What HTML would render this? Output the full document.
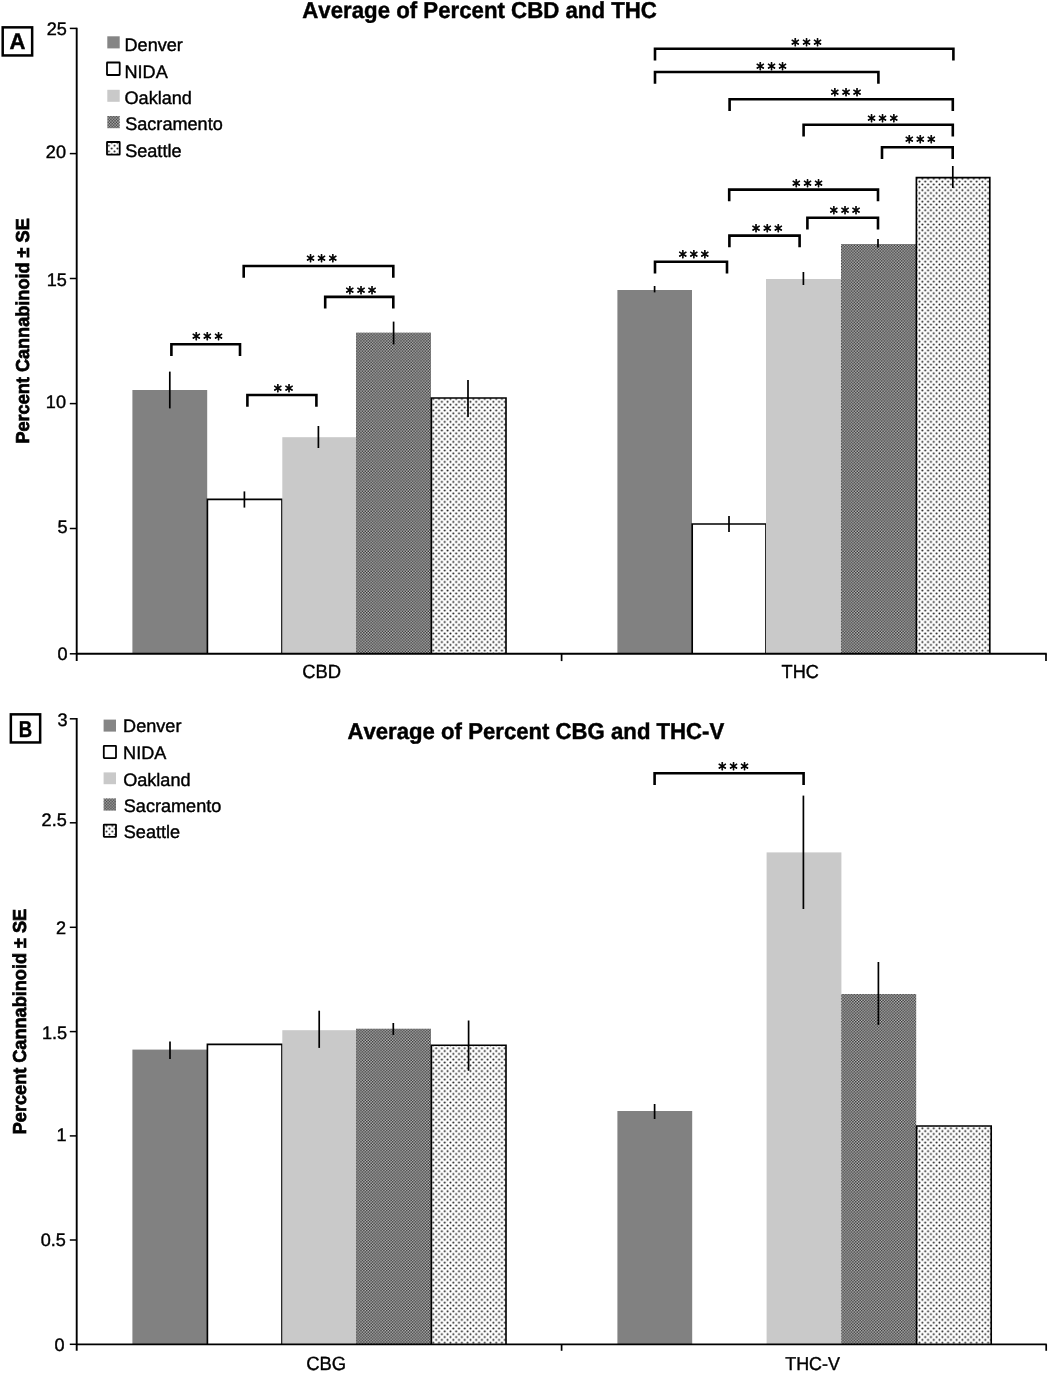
<!DOCTYPE html>
<html lang="en">
<head>
<meta charset="utf-8">
<title>Average of Percent Cannabinoids</title>
<style>
html,body{margin:0;padding:0;background:#fff;}
body{width:1050px;height:1373px;overflow:hidden;}
svg{display:block;font-family:'Liberation Sans',Arial,Helvetica,sans-serif;font-kerning:none;}
svg text{fill:#000;stroke:#000;stroke-width:0.4px;text-rendering:geometricPrecision;}
svg text.b{stroke-width:0.45px;}
svg text.bv{stroke-width:0.7px;}
svg text.st{font-family:'DejaVu Sans','Liberation Sans',sans-serif;stroke-width:0.75px;stroke-linejoin:round;}
</style>
</head>
<body>
<svg width="1050" height="1373" viewBox="0 0 1050 1373">
<defs>
<pattern id="sac" width="2.86" height="2.86" patternUnits="userSpaceOnUse">
<rect width="2.86" height="2.86" fill="#c2c2c2"/>
<rect x="0" y="0" width="1.43" height="1.43" fill="#2c2c2c"/>
<rect x="1.43" y="1.43" width="1.43" height="1.43" fill="#2c2c2c"/>
</pattern>
<pattern id="sea" width="5.72" height="5.72" patternUnits="userSpaceOnUse">
<rect width="5.72" height="5.72" fill="#fff"/>
<circle cx="1.43" cy="1.43" r="1" fill="#000" fill-opacity="0.9"/>
<circle cx="4.29" cy="4.29" r="1" fill="#000" fill-opacity="0.9"/>
</pattern>
<pattern id="seaA" x="113.14" y="144.27" width="5.72" height="5.72" patternUnits="userSpaceOnUse">
<rect width="5.72" height="5.72" fill="#fff"/>
<circle cx="1.43" cy="1.43" r="1" fill="#000" fill-opacity="0.9"/>
<circle cx="4.29" cy="4.29" r="1" fill="#000" fill-opacity="0.9"/>
</pattern>
<pattern id="seaB" x="108" y="827.27" width="5.72" height="5.72" patternUnits="userSpaceOnUse">
<rect width="5.72" height="5.72" fill="#fff"/>
<circle cx="1.43" cy="1.43" r="1" fill="#000" fill-opacity="0.9"/>
<circle cx="4.29" cy="4.29" r="1" fill="#000" fill-opacity="0.9"/>
</pattern>
</defs>
<rect width="1050" height="1373" fill="#fff"/>
<rect x="132.40" y="390.00" width="74.80" height="263.80" fill="#818181"/>
<path d="M207.40 653.80V499.40H282.00V653.80" fill="#fff" stroke="#000" stroke-width="1.65"/>
<rect x="282.30" y="437.20" width="73.90" height="216.60" fill="#c9c9c9"/>
<rect x="356.00" y="332.60" width="75.00" height="321.20" fill="url(#sac)"/>
<path d="M431.40 653.80V398.00H506.00V653.80" fill="url(#sea)" stroke="#000" stroke-width="1.65"/>
<rect x="617.40" y="290.00" width="74.60" height="363.80" fill="#818181"/>
<path d="M692.20 653.80V524.00H766.00V653.80" fill="#fff" stroke="#000" stroke-width="1.65"/>
<rect x="766.00" y="279.00" width="75.20" height="374.80" fill="#c9c9c9"/>
<rect x="841.00" y="244.00" width="75.00" height="409.80" fill="url(#sac)"/>
<path d="M916.40 653.80V177.60H989.80V653.80" fill="url(#sea)" stroke="#000" stroke-width="1.65"/>
<line x1="169.80" y1="371.60" x2="169.80" y2="408.40" stroke="#000" stroke-width="1.7"/>
<line x1="244.40" y1="491.40" x2="244.40" y2="507.60" stroke="#000" stroke-width="1.7"/>
<line x1="318.40" y1="426.00" x2="318.40" y2="448.00" stroke="#000" stroke-width="1.7"/>
<line x1="393.60" y1="321.60" x2="393.60" y2="344.40" stroke="#000" stroke-width="1.7"/>
<line x1="468.00" y1="380.00" x2="468.00" y2="417.00" stroke="#000" stroke-width="1.7"/>
<line x1="654.60" y1="286.00" x2="654.60" y2="292.40" stroke="#000" stroke-width="1.7"/>
<line x1="729.00" y1="516.00" x2="729.00" y2="532.00" stroke="#000" stroke-width="1.7"/>
<line x1="803.40" y1="272.00" x2="803.40" y2="285.00" stroke="#000" stroke-width="1.7"/>
<line x1="878.00" y1="239.00" x2="878.00" y2="247.60" stroke="#000" stroke-width="1.7"/>
<line x1="952.80" y1="166.00" x2="952.80" y2="188.00" stroke="#000" stroke-width="1.7"/>
<line x1="76.70" y1="27.70" x2="76.70" y2="661.10" stroke="#000" stroke-width="1.9"/>
<line x1="76.70" y1="653.80" x2="1046.75" y2="653.80" stroke="#000" stroke-width="2.0"/>
<line x1="69.80" y1="28.40" x2="76.70" y2="28.40" stroke="#000" stroke-width="1.5"/>
<text transform="translate(46.63 35.00) scale(1.0000 1)" font-size="18.10">25</text>
<line x1="69.80" y1="153.60" x2="76.70" y2="153.60" stroke="#000" stroke-width="1.5"/>
<text transform="translate(45.82 158.00) scale(1.0000 1)" font-size="18.10">20</text>
<line x1="69.80" y1="278.50" x2="76.70" y2="278.50" stroke="#000" stroke-width="1.5"/>
<text transform="translate(46.63 286.00) scale(1.0000 1)" font-size="18.10">15</text>
<line x1="69.80" y1="403.60" x2="76.70" y2="403.60" stroke="#000" stroke-width="1.5"/>
<text transform="translate(45.82 408.00) scale(1.0000 1)" font-size="18.10">10</text>
<line x1="69.80" y1="528.50" x2="76.70" y2="528.50" stroke="#000" stroke-width="1.5"/>
<text transform="translate(57.54 533.00) scale(1.0000 1)" font-size="18.10">5</text>
<line x1="69.80" y1="653.80" x2="76.70" y2="653.80" stroke="#000" stroke-width="1.5"/>
<text transform="translate(57.44 660.00) scale(1.0000 1)" font-size="18.10">0</text>
<line x1="561.60" y1="653.80" x2="561.60" y2="661.10" stroke="#000" stroke-width="1.7"/>
<line x1="1046.00" y1="653.80" x2="1046.00" y2="661.10" stroke="#000" stroke-width="1.7"/>
<text transform="translate(302.27 678.00) scale(0.9615 1)" font-size="19.12">CBD</text>
<text transform="translate(781.59 678.00) scale(0.9615 1)" font-size="18.87">THC</text>
<text transform="translate(29.10 443.61) rotate(-90) scale(0.9662 1)" font-size="18.75" font-weight="bold" class="bv">Percent Cannabinoid ± SE</text>
<text transform="translate(302.25 18.00) scale(0.9662 1)" font-size="23.02" font-weight="bold" class="b">Average of Percent CBD and THC</text>
<rect x="2.70" y="27.35" width="29.45" height="28.10" fill="#fff" stroke="#000" stroke-width="2.5"/>
<text transform="translate(9.55 48.90) scale(0.9761 1)" font-size="22.60" font-weight="bold" class="b">A</text>
<rect x="107.30" y="36.30" width="12.40" height="12.10" fill="#858585"/>
<text transform="translate(124.52 51.00) scale(1.0000 1)" font-size="18.10">Denver</text>
<rect x="107.00" y="62.50" width="12.70" height="12.50" rx="0.5" fill="#fff" stroke="#000" stroke-width="1.8"/>
<text transform="translate(124.52 78.00) scale(1.0000 1)" font-size="18.10">NIDA</text>
<rect x="107.30" y="89.80" width="12.40" height="12.00" fill="#c9c9c9"/>
<text transform="translate(124.54 104.00) scale(1.0000 1)" font-size="18.10">Oakland</text>
<rect x="107.30" y="116.00" width="12.40" height="12.20" fill="url(#sac)"/>
<text transform="translate(125.18 130.00) scale(1.0000 1)" font-size="18.10">Sacramento</text>
<rect x="107.00" y="142.00" width="12.70" height="12.70" rx="0.5" fill="url(#seaA)" stroke="#000" stroke-width="1.8"/>
<text transform="translate(125.18 157.00) scale(1.0000 1)" font-size="18.10">Seattle</text>
<path d="M171.40 355.90V344.20H240.00V355.90" fill="none" stroke="#000" stroke-width="2.6"/>
<text class="st" transform="translate(207.40 345) scale(0.94 1)" x="-11.81 0.00 11.81" y="0" font-size="17.2" text-anchor="middle">***</text>
<path d="M247.40 406.70V395.00H316.40V406.70" fill="none" stroke="#000" stroke-width="2.6"/>
<text class="st" transform="translate(283.40 397) scale(0.94 1)" x="-5.90 5.90" y="0" font-size="17.2" text-anchor="middle">**</text>
<path d="M243.70 277.70V266.00H393.30V277.70" fill="none" stroke="#000" stroke-width="2.6"/>
<text class="st" transform="translate(321.60 267) scale(0.94 1)" x="-11.81 0.00 11.81" y="0" font-size="17.2" text-anchor="middle">***</text>
<path d="M325.20 308.60V296.90H393.30V308.60" fill="none" stroke="#000" stroke-width="2.6"/>
<text class="st" transform="translate(361.00 299) scale(0.94 1)" x="-11.81 0.00 11.81" y="0" font-size="17.2" text-anchor="middle">***</text>
<path d="M655.00 273.50V261.80H727.00V273.50" fill="none" stroke="#000" stroke-width="2.6"/>
<text class="st" transform="translate(693.80 263) scale(0.94 1)" x="-11.81 0.00 11.81" y="0" font-size="17.2" text-anchor="middle">***</text>
<path d="M729.40 247.30V235.60H799.60V247.30" fill="none" stroke="#000" stroke-width="2.6"/>
<text class="st" transform="translate(767.20 237) scale(0.94 1)" x="-11.81 0.00 11.81" y="0" font-size="17.2" text-anchor="middle">***</text>
<path d="M729.20 201.30V189.60H878.00V201.30" fill="none" stroke="#000" stroke-width="2.6"/>
<text class="st" transform="translate(807.50 192) scale(0.94 1)" x="-11.81 0.00 11.81" y="0" font-size="17.2" text-anchor="middle">***</text>
<path d="M807.40 229.50V217.80H878.00V229.50" fill="none" stroke="#000" stroke-width="2.6"/>
<text class="st" transform="translate(845.00 219) scale(0.94 1)" x="-11.81 0.00 11.81" y="0" font-size="17.2" text-anchor="middle">***</text>
<path d="M882.00 158.90V147.20H952.70V158.90" fill="none" stroke="#000" stroke-width="2.6"/>
<text class="st" transform="translate(920.30 148) scale(0.94 1)" x="-11.81 0.00 11.81" y="0" font-size="17.2" text-anchor="middle">***</text>
<path d="M803.60 136.40V124.70H952.80V136.40" fill="none" stroke="#000" stroke-width="2.6"/>
<text class="st" transform="translate(882.60 127) scale(0.94 1)" x="-11.81 0.00 11.81" y="0" font-size="17.2" text-anchor="middle">***</text>
<path d="M729.60 110.90V99.20H952.80V110.90" fill="none" stroke="#000" stroke-width="2.6"/>
<text class="st" transform="translate(846.00 101) scale(0.94 1)" x="-11.81 0.00 11.81" y="0" font-size="17.2" text-anchor="middle">***</text>
<path d="M655.00 83.70V72.00H878.40V83.70" fill="none" stroke="#000" stroke-width="2.6"/>
<text class="st" transform="translate(771.50 75) scale(0.94 1)" x="-11.81 0.00 11.81" y="0" font-size="17.2" text-anchor="middle">***</text>
<path d="M655.00 60.40V48.70H953.40V60.40" fill="none" stroke="#000" stroke-width="2.6"/>
<text class="st" transform="translate(806.50 51) scale(0.94 1)" x="-11.81 0.00 11.81" y="0" font-size="17.2" text-anchor="middle">***</text>
<rect x="132.40" y="1049.60" width="74.60" height="294.70" fill="#818181"/>
<path d="M207.40 1344.30V1044.30H282.00V1344.30" fill="#fff" stroke="#000" stroke-width="1.65"/>
<rect x="282.30" y="1030.20" width="73.90" height="314.10" fill="#c9c9c9"/>
<rect x="356.00" y="1028.70" width="75.00" height="315.60" fill="url(#sac)"/>
<path d="M431.40 1344.30V1045.20H506.00V1344.30" fill="url(#sea)" stroke="#000" stroke-width="1.65"/>
<rect x="617.40" y="1111.00" width="74.80" height="233.30" fill="#818181"/>
<rect x="766.60" y="852.40" width="74.80" height="491.90" fill="#c9c9c9"/>
<rect x="841.20" y="994.00" width="75.00" height="350.30" fill="url(#sac)"/>
<path d="M916.60 1344.30V1126.00H991.20V1344.30" fill="url(#sea)" stroke="#000" stroke-width="1.65"/>
<line x1="170.00" y1="1041.40" x2="170.00" y2="1059.00" stroke="#000" stroke-width="1.7"/>
<line x1="319.20" y1="1010.70" x2="319.20" y2="1047.90" stroke="#000" stroke-width="1.7"/>
<line x1="393.30" y1="1023.00" x2="393.30" y2="1035.00" stroke="#000" stroke-width="1.7"/>
<line x1="468.60" y1="1020.50" x2="468.60" y2="1070.80" stroke="#000" stroke-width="1.7"/>
<line x1="654.60" y1="1104.00" x2="654.60" y2="1119.00" stroke="#000" stroke-width="1.7"/>
<line x1="803.40" y1="795.60" x2="803.40" y2="909.00" stroke="#000" stroke-width="1.7"/>
<line x1="878.40" y1="962.00" x2="878.40" y2="1025.00" stroke="#000" stroke-width="1.7"/>
<line x1="76.70" y1="718.00" x2="76.70" y2="1350.80" stroke="#000" stroke-width="1.9"/>
<line x1="76.70" y1="1344.30" x2="1046.75" y2="1344.30" stroke="#000" stroke-width="1.75"/>
<line x1="69.80" y1="718.80" x2="76.70" y2="718.80" stroke="#000" stroke-width="1.5"/>
<text transform="translate(57.53 726.00) scale(1.0000 1)" font-size="18.10">3</text>
<line x1="69.80" y1="822.80" x2="76.70" y2="822.80" stroke="#000" stroke-width="1.5"/>
<text transform="translate(41.60 826.00) scale(1.0000 1)" font-size="18.10">2.5</text>
<line x1="69.80" y1="927.30" x2="76.70" y2="927.30" stroke="#000" stroke-width="1.5"/>
<text transform="translate(55.94 934.00) scale(1.0000 1)" font-size="18.10">2</text>
<line x1="69.80" y1="1031.60" x2="76.70" y2="1031.60" stroke="#000" stroke-width="1.5"/>
<text transform="translate(42.00 1039.00) scale(1.0000 1)" font-size="18.10">1.5</text>
<line x1="69.80" y1="1135.90" x2="76.70" y2="1135.90" stroke="#000" stroke-width="1.5"/>
<text transform="translate(56.52 1141.00) scale(1.0000 1)" font-size="18.10">1</text>
<line x1="69.80" y1="1240.00" x2="76.70" y2="1240.00" stroke="#000" stroke-width="1.5"/>
<text transform="translate(40.70 1246.00) scale(1.0000 1)" font-size="18.10">0.5</text>
<line x1="69.80" y1="1344.30" x2="76.70" y2="1344.30" stroke="#000" stroke-width="1.5"/>
<text transform="translate(54.39 1351.00) scale(1.0000 1)" font-size="18.10">0</text>
<line x1="561.60" y1="1344.30" x2="561.60" y2="1350.80" stroke="#000" stroke-width="1.7"/>
<line x1="1046.20" y1="1344.30" x2="1046.20" y2="1350.80" stroke="#000" stroke-width="1.7"/>
<text transform="translate(306.26 1370.00) scale(0.9615 1)" font-size="19.15">CBG</text>
<text transform="translate(785.20 1370.00) scale(0.9615 1)" font-size="18.61">THC-V</text>
<text transform="translate(25.50 1134.21) rotate(-90) scale(0.9662 1)" font-size="18.75" font-weight="bold" class="bv">Percent Cannabinoid ± SE</text>
<text transform="translate(347.45 739.00) scale(0.9662 1)" font-size="22.95" font-weight="bold" class="b">Average of Percent CBG and THC-V</text>
<rect x="10.85" y="714.35" width="29.30" height="28.10" fill="#fff" stroke="#000" stroke-width="2.5"/>
<text transform="translate(18.66 736.80) scale(0.8056 1)" font-size="23.00" font-weight="bold" class="b">B</text>
<rect x="103.60" y="719.60" width="12.40" height="12.00" fill="#858585"/>
<text transform="translate(123.12 732.00) scale(1.0000 1)" font-size="18.10">Denver</text>
<rect x="103.80" y="745.80" width="12.20" height="12.30" rx="0.5" fill="#fff" stroke="#000" stroke-width="1.8"/>
<text transform="translate(123.12 759.00) scale(1.0000 1)" font-size="18.10">NIDA</text>
<rect x="103.60" y="772.40" width="12.40" height="11.80" fill="#c9c9c9"/>
<text transform="translate(123.14 786.00) scale(1.0000 1)" font-size="18.10">Oakland</text>
<rect x="103.60" y="798.40" width="12.40" height="12.20" fill="url(#sac)"/>
<text transform="translate(123.78 812.00) scale(1.0000 1)" font-size="18.10">Sacramento</text>
<rect x="103.80" y="824.60" width="12.20" height="12.20" rx="0.5" fill="url(#seaB)" stroke="#000" stroke-width="1.8"/>
<text transform="translate(123.78 838.00) scale(1.0000 1)" font-size="18.10">Seattle</text>
<path d="M654.60 784.90V773.20H803.60V784.90" fill="none" stroke="#000" stroke-width="2.6"/>
<text class="st" transform="translate(733.50 775) scale(0.94 1)" x="-11.81 0.00 11.81" y="0" font-size="17.2" text-anchor="middle">***</text>
</svg>
</body>
</html>
